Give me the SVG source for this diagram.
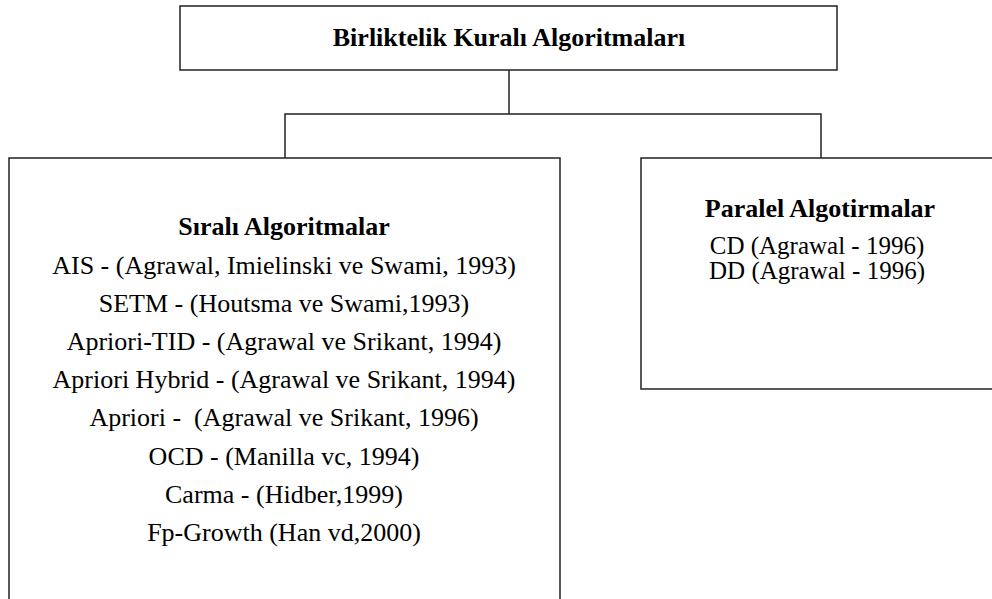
<svg xmlns="http://www.w3.org/2000/svg" width="992" height="599" viewBox="0 0 992 599">
<style>
.box{fill:#fff;stroke:#222;stroke-width:1.5}
.ln{fill:none;stroke:#222;stroke-width:1.5}
.t{font-family:"Times New Roman",Times,"Liberation Serif","DejaVu Serif",serif;font-size:26px;fill:#000;text-anchor:middle}
.b{font-weight:bold}
.s{font-size:25px}
</style>
<rect width="992" height="599" fill="#fff"/>
<g id="connectors">
<path class="ln" d="M509 70V114M285 158V114H821V158"/>
</g>
<g id="root">
<rect class="box" x="180" y="6" width="657" height="64"/>
<text class="t b" x="509" y="46">Birliktelik Kuralı Algoritmaları</text>
</g>
<g id="sirali">
<rect class="box" x="9" y="158" width="551" height="460"/>
<text class="t b" x="284" y="235">Sıralı Algoritmalar</text>
<text class="t" x="284" y="273.5">AIS - (Agrawal, Imielinski ve Swami, 1993)</text>
<text class="t" x="284" y="311.7">SETM - (Houtsma ve Swami,1993)</text>
<text class="t" x="284" y="349.9">Apriori-TID - (Agrawal ve Srikant, 1994)</text>
<text class="t" x="284" y="388.1">Apriori Hybrid - (Agrawal ve Srikant, 1994)</text>
<text class="t" x="284" y="426.3" xml:space="preserve">Apriori -  (Agrawal ve Srikant, 1996)</text>
<text class="t" x="284" y="464.5">OCD - (Manilla vc, 1994)</text>
<text class="t" x="284" y="502.7">Carma - (Hidber,1999)</text>
<text class="t" x="284" y="540.9">Fp-Growth (Han vd,2000)</text>
</g>
<g id="paralel">
<rect class="box" x="641" y="158" width="370" height="231"/>
<text class="t b" x="820" y="217">Paralel Algotirmalar</text>
<text class="t s" x="817" y="254">CD (Agrawal - 1996)</text>
<text class="t s" x="817" y="279">DD (Agrawal - 1996)</text>
</g>
</svg>
